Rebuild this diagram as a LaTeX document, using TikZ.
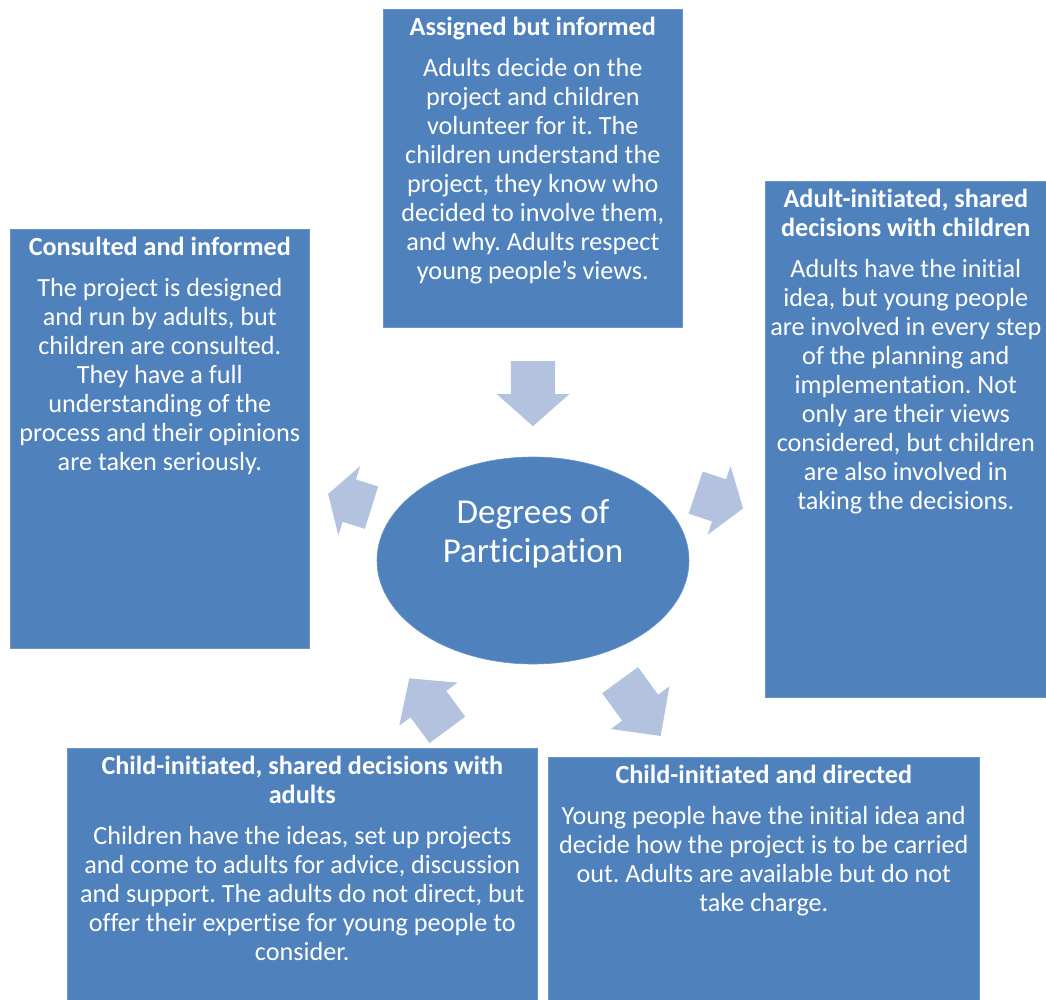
\documentclass[tikz,border=0pt]{standalone}
\usepackage{fontspec}
\setmainfont[Ligatures=NoCommon]{Carlito}
\frenchspacing
\usetikzlibrary{positioning,shapes.geometric,shapes.arrows}
\definecolor{boxblue}{HTML}{4F81BD}
\definecolor{arrowblue}{HTML}{B3C2DE}

\begin{document}
\begin{tikzpicture}[x=1pt, y=-1pt,
	% Define styles for the boxes, their texts and the block arrows
	box style/.style={rectangle, fill=boxblue, draw=boxblue!85!white, line width=0.6pt, anchor=north west, inner sep=0pt},
	text style/.style={text=white, align=center, inner sep=0pt, font=\fontsize{26.2}{29}\selectfont},
	arrow style/.style={single arrow, fill=arrowblue, anchor=tail, minimum width=72pt, text height=22pt, text depth=22pt, single arrow head extend=14pt, inner sep=0pt}
	]
	
	\useasboundingbox (0,0) rectangle (1046,1000);
	
	% Place the boxes
	\node[box style, minimum width=299pt, minimum height=419pt] (consulted) at (10,229) {};
	\node[box style, minimum width=299pt, minimum height=318pt] (assigned) at (383,9) {};
	\node[box style, minimum width=281pt, minimum height=516pt] (adult) at (765,181) {};
	\node[box style, minimum width=470pt, minimum height=252pt] (childshared) at (67,748) {};
	\node[box style, minimum width=431pt, minimum height=243pt] (childdirected) at (548,757) {};
	
	% Centre ellipse
	\node[ellipse, fill=boxblue, draw=boxblue!85!white, line width=0.6pt, minimum width=312pt, minimum height=207pt, inner sep=0pt] (hub) at (533,560.5) {};
	\node[text style, font=\fontsize{35}{39}\selectfont] (hubtxt) at (533,534) {Degrees of\\Participation};
	
	% Texts of the boxes
	\node[text style, below=7.5pt of assigned.north] (assignedtxt) {\textbf{Assigned but informed}\\[12pt]
		Adults decide on the\\ project and children\\ volunteer for it. The\\ children understand the\\
		project, they know who\\ decided to involve them,\\ and why. Adults respect\\ young people’s views.};
	\node[text style, below=7.5pt of consulted.north] (consultedtxt) {\textbf{Consulted and informed}\\[12pt]
		The project is designed\\ and run by adults, but\\ children are consulted.\\ They have a full\\
		understanding of the\\ process and their opinions\\ are taken seriously.};
	\node[text style, below=7.5pt of adult.north] (adulttxt) {\textbf{Adult-initiated, shared}\\ \textbf{decisions with children}\\[12pt]
		Adults have the initial\\ idea, but young people\\ are involved in every step\\ of the planning and\\
		implementation. Not\\ only are their views\\ considered, but children\\ are also involved in\\ taking the decisions.};
	\node[text style, below=7.5pt of childshared.north] (childsharedtxt) {\textbf{Child-initiated, shared decisions with}\\ \textbf{adults}\\[12pt]
		Children have the ideas, set up projects\\ and come to adults for advice, discussion\\
		and support. The adults do not direct, but\\ offer their expertise for young people to\\ consider.};
	\node[text style, below=7.5pt of childdirected.north] (childdirectedtxt) {\textbf{Child-initiated and directed}\\[12pt]
		Young people have the initial idea and\\ decide how the project is to be carried\\
		out. Adults are available but do not\\ take charge.};
	
	% --- Draw the block arrows round the ellipse ---
	\node[arrow style, minimum height=65pt, single arrow tip angle=97, rotate=-90] (arrowtop) at (533,361) {};
	\node[arrow style, minimum height=50pt, single arrow tip angle=110, rotate=-18.5] (arrowright) at (695.5,492.5) {};
	\node[arrow style, minimum height=69pt, single arrow tip angle=92, rotate=-54] (arrowdown) at (620,680) {};
	\node[arrow style, minimum height=64pt, single arrow tip angle=97, rotate=126.5] (arrowup) at (447.5,730) {};
	\node[arrow style, minimum height=45.5pt, single arrow tip angle=117, rotate=162.5] (arrowleft) at (371.7,507.7) {};
\end{tikzpicture}
\end{document}
